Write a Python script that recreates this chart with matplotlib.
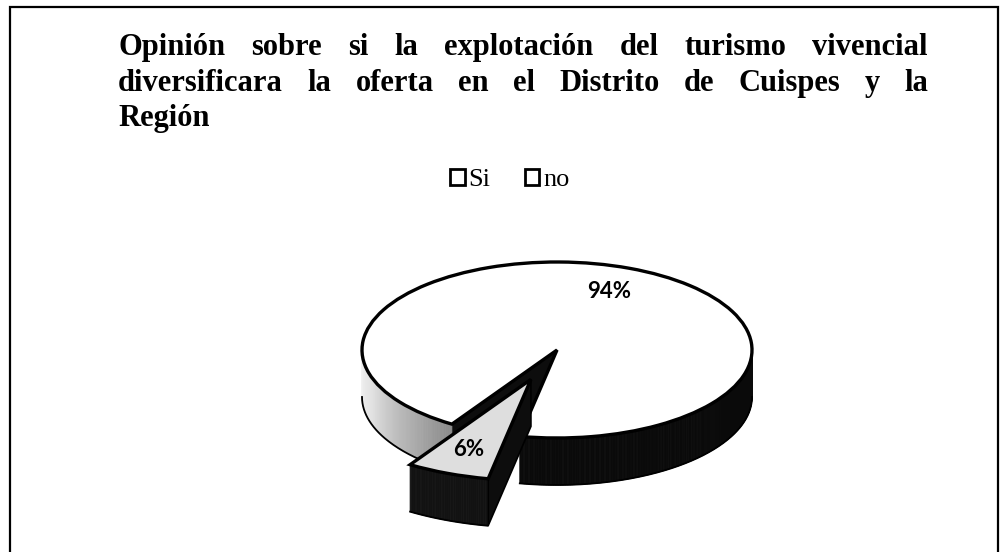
import numpy as np
import matplotlib
matplotlib.use("Agg")
import matplotlib.pyplot as plt
from matplotlib.patches import Polygon, Rectangle, Patch
from matplotlib.collections import PolyCollection

# data
labels = ["Si", "no"]
values = [94, 6]
title_lines = ["Opinión sobre si la explotación del turismo vivencial",
               "diversificara la oferta en el Distrito de Cuispes y la",
               "Región"]

W, H = 1002, 552
fig = plt.figure(figsize=(W / 100, H / 100), dpi=100)
ax = fig.add_axes([0, 0, 1, 1])

# pie placement (pixels) and 3d look
cx_px, cy_px = 557, 350
rx_px, ry_px = 195, 88
depth = 47 / ry_px

wedges, _, autotexts = ax.pie(
    values, startangle=-101, explode=[0, 0.36], colors=["white", "#dedede"],
    autopct="%1.0f%%", pctdistance=0.72,
    wedgeprops=dict(edgecolor="black", linewidth=2.4),
    textprops=dict(family="Lato", weight="bold", fontsize=16, color="black"))
wedges[0].set_zorder(3)
wedges[1].set_zorder(7)
# the exploded slice is nearer to the eye, so it looks a bit larger
wedges[1].set_radius(1.15)
for t in autotexts:
    t.set_zorder(10)
w1 = wedges[1]
mid = np.radians((w1.theta1 + w1.theta2) / 2)
autotexts[1].set_position((w1.center[0] + 0.75 * w1.r * np.cos(mid),
                           w1.center[1] + 0.75 * w1.r * np.sin(mid)))


def big_shade(t):
    t = t % 360
    return np.interp(t, [180, 200, 237, 250, 360], [0.96, 0.88, 0.55, 0.04, 0.04])


def small_shade(t):
    return 0.07


def side_wall(w, shade, z):
    cx, cy = w.center
    R = w.r
    ts = np.arange(w.theta1, w.theta2 + 0.25, 0.5)
    ts = np.clip(ts, w.theta1, w.theta2)
    quads, cols = [], []
    for a, b in zip(ts[:-1], ts[1:]):
        m = np.radians((a + b) / 2)
        if np.sin(m) > 0:
            continue
        ra, rb = np.radians(a), np.radians(b)
        quads.append([(cx + R * np.cos(ra), cy + R * np.sin(ra)),
                      (cx + R * np.cos(rb), cy + R * np.sin(rb)),
                      (cx + R * np.cos(rb), cy + R * np.sin(rb) - depth),
                      (cx + R * np.cos(ra), cy + R * np.sin(ra) - depth)])
        g = shade((a + b) / 2)
        cols.append((g, g, g))
    if quads:
        ax.add_collection(PolyCollection(quads, facecolors=cols, edgecolors=cols,
                                         linewidths=0.6, zorder=z))
        # outline of the bottom rim, only where the wall is visible
        r = np.radians(ts)
        yb = np.where(np.sin(r) <= 1e-9, cy + R * np.sin(r) - depth, np.nan)
        ax.plot(cx + R * np.cos(r), yb, color="black", lw=1.3, zorder=z)


def cut_face(w, ang, grey, z):
    cx, cy = w.center
    R = w.r
    r = np.radians(ang)
    pts = [(cx, cy), (cx + R * np.cos(r), cy + R * np.sin(r)),
           (cx + R * np.cos(r), cy + R * np.sin(r) - depth), (cx, cy - depth)]
    ax.add_patch(Polygon(pts, closed=True, facecolor=(grey, grey, grey),
                         edgecolor="black", lw=1.2, zorder=z))


# big slice: visible cut face and outer wall
cut_face(wedges[0], wedges[0].theta2, 0.05, 1)
side_wall(wedges[0], big_shade, 2)
# small exploded slice
side_wall(wedges[1], small_shade, 5)
cut_face(wedges[1], wedges[1].theta2, 0.05, 6)

ax.set_aspect("auto")
ax.set_xlim((0 - cx_px) / rx_px, (W - cx_px) / rx_px)
ax.set_ylim((cy_px - H) / ry_px, cy_px / ry_px)
ax.axis("off")

# justified title
renderer = fig.canvas.get_renderer()
tkw = dict(family="Liberation Serif", weight="bold", fontsize=22, va="baseline", ha="left")
x0, x1 = 118, 928
baselines = [55, 91, 126]
for i, line in enumerate(title_lines):
    y = 1 - baselines[i] / H
    if i == len(title_lines) - 1:
        fig.text(x0 / W, y, line, **tkw)
        continue
    words = line.split()
    txts = [fig.text(0, y, wd, **tkw) for wd in words]
    widths = [t.get_window_extent(renderer).width for t in txts]
    gap = (x1 - x0 - sum(widths)) / (len(words) - 1)
    x = x0
    for t, wd in zip(txts, widths):
        t.set_x(x / W)
        x += wd + gap

# legend
handles = [Patch(facecolor="white", edgecolor="black", linewidth=2) for _ in labels]
fig.legend(handles, labels, loc="center", bbox_to_anchor=(510 / W, 1 - 180 / H), ncol=2,
           frameon=False, prop=dict(family="Liberation Serif", size=19),
           handlelength=0.55, handleheight=0.55, handletextpad=0.15, columnspacing=1.3)

# outer frame (bottom edge is cut off in the scan)
fig.add_artist(Rectangle((10 / W, -0.1), (998 - 10) / W, 1 - 7 / H + 0.1,
                         transform=fig.transFigure, fill=False, edgecolor="black", lw=1.6))

fig.savefig("out.png", dpi=100)
